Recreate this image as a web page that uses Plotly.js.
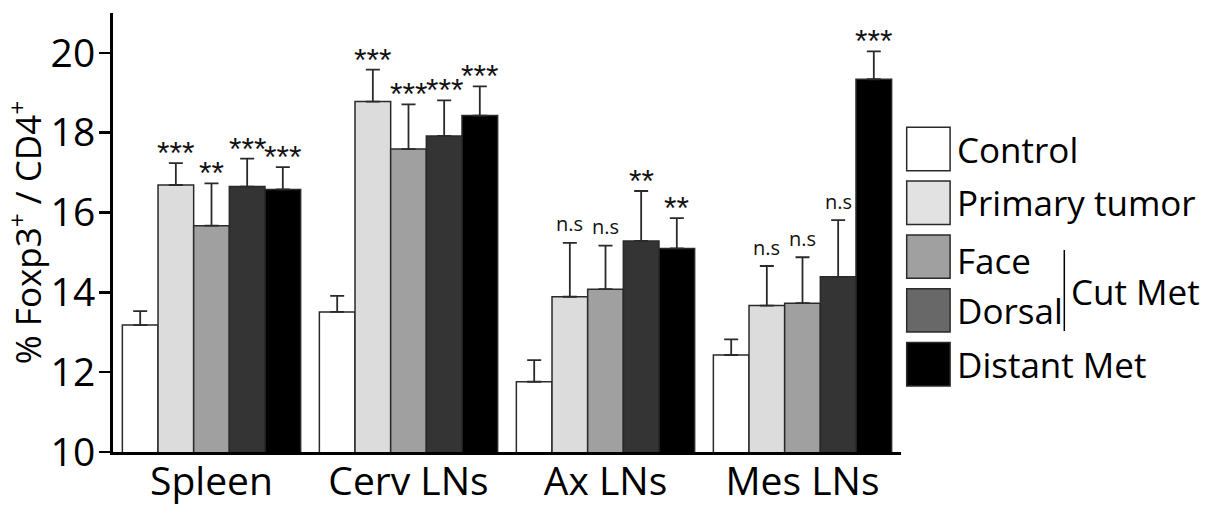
<!DOCTYPE html>
<html>
<head>
<meta charset="utf-8">
<script src="https://cdn.plot.ly/plotly-3.0.1.min.js"></script>
<style>html,body{margin:0;padding:0;background:#fff;}#chart{width:1215px;height:509px;}</style>
</head>
<body>
<div id="chart"></div>
<script>
// ---- data ----
const categories = ['Spleen', 'Cerv LNs', 'Ax LNs', 'Mes LNs'];
const seriesNames = ['Control', 'Primary tumor', 'Face', 'Dorsal', 'Distant Met'];

const controlMean = [13.18, 13.51, 11.76, 12.43];
const controlErr  = [0.35, 0.40, 0.54, 0.39];
const primaryMean = [16.69, 18.78, 13.89, 13.67];
const primaryErr  = [0.55, 0.80, 1.35, 0.99];
const faceMean    = [15.67, 17.59, 14.08, 13.73];
const faceErr     = [1.06, 1.12, 1.09, 1.15];
const dorsalMean  = [16.65, 17.92, 15.29, 14.39];
const dorsalErr   = [0.70, 0.89, 1.25, 1.42];
const distantMean = [16.58, 18.43, 15.10, 19.34];
const distantErr  = [0.56, 0.73, 0.76, 0.70];

const controlSig = ['', '', '', ''];
const primarySig = ['***', '***', 'n.s', 'n.s'];
const faceSig    = ['**', '***', 'n.s', 'n.s'];
const dorsalSig  = ['***', '***', '**', 'n.s'];
const distantSig = ['***', '***', '**', '***'];

const yTickVals = [10, 12, 14, 16, 18, 20];
const yTitle = '% Foxp3<sup>+</sup> / CD4<sup>+</sup>';
const legendGroupLabel = 'Cut Met';

// ---- styling ----
const barColors    = ['#ffffff', '#dcdcdc', '#a0a0a0', '#343434', '#000000'];
const legendColors = ['#ffffff', '#e2e2e2', '#a0a0a0', '#686868', '#000000'];
const FONT = '"Open Sans", "Noto Sans", sans-serif';
const STAR_FONT = '"Liberation Sans", Arial, sans-serif';
const W = 1215, H = 509;
const ML = 113, MR = 314, MT = 13, MB = 57;
const PW = W - ML - MR, PH = H - MT - MB;
const BARGAP = 0.095;

const means = [controlMean, primaryMean, faceMean, dorsalMean, distantMean];
const errs  = [controlErr, primaryErr, faceErr, dorsalErr, distantErr];
const sigs  = [controlSig, primarySig, faceSig, dorsalSig, distantSig];

const traces = seriesNames.map((name, k) => ({
  type: 'bar',
  name: name,
  x: categories,
  y: means[k],
  marker: {color: barColors[k], line: {color: '#2a2a2a', width: 1.5}},
  error_y: {
    type: 'data', symmetric: false,
    array: errs[k], arrayminus: errs[k].map(() => 0),
    color: '#2a2a2a', thickness: 1.8, width: 7
  },
  showlegend: false,
  hoverinfo: 'skip'
}));

// significance annotations
const annotations = [];
const barW = (1 - BARGAP) / seriesNames.length;
sigs.forEach((arr, k) => {
  arr.forEach((s, i) => {
    if (!s) return;
    const isNs = s === 'n.s';
    annotations.push({
      xref: 'x', yref: 'y',
      x: i + (k - (seriesNames.length - 1) / 2) * barW,
      y: means[k][i] + errs[k][i],
      text: s, showarrow: false,
      xanchor: 'center', yanchor: 'middle',
      yshift: isNs ? 19 : 10,
      font: isNs ? {family: FONT, size: 20, color: '#111'}
                 : {family: STAR_FONT, size: 32, color: '#111'}
    });
  });
});

// custom legend
const pxX = x => (x - ML) / PW;
const pxY = y => (H - MB - y) / PH;
const shapes = [];
const legTop = 127.3, legStep = 53.8, box = 43.4, boxX = 906.7;
const textYOffsets = [0, 0, 4, 0, 0];
seriesNames.forEach((name, k) => {
  const y0 = legTop + k * legStep;
  shapes.push({
    type: 'rect', xref: 'paper', yref: 'paper',
    x0: pxX(boxX), x1: pxX(boxX + box), y0: pxY(y0), y1: pxY(y0 + box),
    fillcolor: legendColors[k], line: {color: '#2a2a2a', width: 1.5}
  });
  annotations.push({
    xref: 'paper', yref: 'paper',
    x: pxX(boxX + box + 5), y: pxY(y0 + box / 2 + textYOffsets[k]),
    xanchor: 'left', yanchor: 'middle', showarrow: false,
    text: name, font: {family: FONT, size: 35, color: '#000'}
  });
});
shapes.push({
  type: 'line', xref: 'paper', yref: 'paper',
  x0: pxX(1064.3), x1: pxX(1064.3), y0: pxY(250), y1: pxY(331),
  line: {color: '#000', width: 1.5}
});
annotations.push({
  xref: 'paper', yref: 'paper',
  x: pxX(1069), y: pxY(291), xanchor: 'left', yanchor: 'middle', showarrow: false,
  text: legendGroupLabel, font: {family: FONT, size: 35, color: '#000'}
});

const layout = {
  width: W, height: H,
  margin: {l: ML, r: MR, t: MT, b: MB, pad: 0},
  paper_bgcolor: '#fff', plot_bgcolor: '#fff',
  barmode: 'group', bargap: BARGAP, bargroupgap: 0,
  font: {family: FONT, color: '#000'},
  xaxis: {
    type: 'category', range: [-0.5, 3.5],
    showline: true, linecolor: '#000', linewidth: 3,
    ticks: '', showgrid: false, zeroline: false,
    ticklabelstandoff: -7,
    tickfont: {family: FONT, size: 39, color: '#000'},
    fixedrange: true
  },
  yaxis: {
    range: [10, 21], tickvals: yTickVals,
    showline: true, linecolor: '#000', linewidth: 3,
    ticks: 'outside', ticklen: 11, tickwidth: 2.5, tickcolor: '#000',
    showgrid: false, zeroline: false,
    ticklabelstandoff: -4,
    tickfont: {family: FONT, size: 39, color: '#000'},
    title: {text: yTitle, font: {family: FONT, size: 35, color: '#000'}, standoff: 7},
    fixedrange: true
  },
  shapes: shapes,
  annotations: annotations,
  showlegend: false
};

Plotly.newPlot('chart', traces, layout, {displayModeBar: false, staticPlot: true});
</script>
</body>
</html>
